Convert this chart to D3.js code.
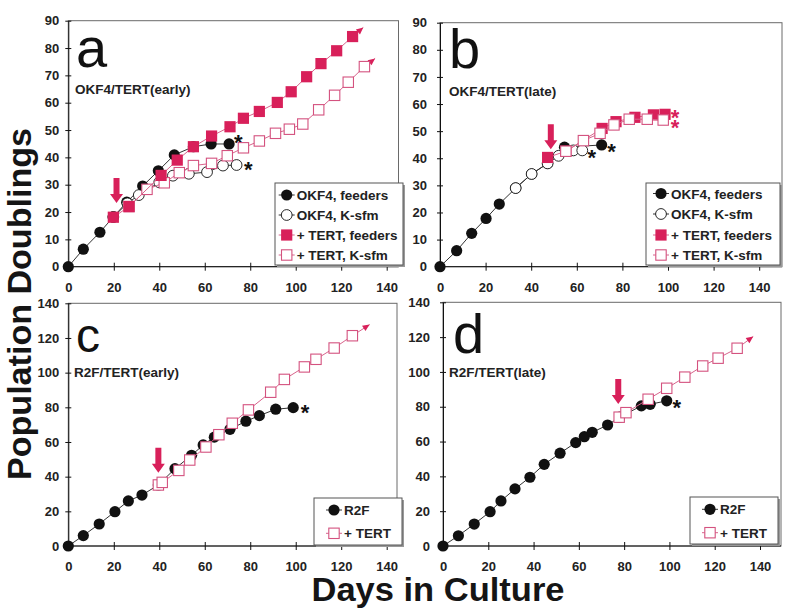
<!DOCTYPE html>
<html><head><meta charset="utf-8">
<script src="https://cdn.jsdelivr.net/npm/d3@7"></script>
<style>body{margin:0;background:#fff} text{font-family:"Liberation Sans",Arial,Helvetica,sans-serif}</style>
</head><body><svg id="chart" width="800" height="611"></svg>
<script>
// ---------- DATA ----------
const xTicks = [0, 20, 40, 60, 80, 100, 120, 140];
const yTicksAB = [0, 10, 20, 30, 40, 50, 60, 70, 80, 90];
const yTicksCD = [0, 20, 40, 60, 80, 100, 120, 140];
const legendAB = ["OKF4, feeders", "OKF4, K-sfm", "+ TERT, feeders", "+ TERT, K-sfm"];
const legendCD = ["R2F", "+ TERT"];
const panelLetters = ["a", "b", "c", "d"];
const panelTitles = ["OKF4/TERT(early)", "OKF4/TERT(late)", "R2F/TERT(early)", "R2F/TERT(late)"];

// Panel a: OKF4/TERT(early)
const aFeedersDays = [0, 6.6, 13.9, 19.8, 25.7, 32.7, 39.6, 46.6, 55, 62.8, 70.7];
const aFeedersPD   = [0, 6.4, 12.6, 18.2, 23.6, 29.5, 35.1, 40.9, 43.9, 44.9, 44.9];
const aKsfmDays = [19.8, 26, 31, 40, 46, 53, 61, 68, 74];
const aKsfmPD   = [18.2, 23.2, 26.2, 30.9, 33.3, 34, 34.6, 37, 37.2];
const aTertFeedersDays = [19.8, 26.7, 40.8, 47.9, 55, 63, 71.1, 77, 84, 91.9, 98, 104.8, 111.1, 118, 125, 129.7];
const aTertFeedersPD   = [18.1, 22, 33.4, 39, 43.9, 47.8, 51.2, 54.3, 56.8, 60.1, 64, 69.5, 74.3, 79, 84.2, 87.5];
const aTertKsfmDays = [26.7, 34.6, 42.2, 48.8, 55, 63, 69.9, 77, 84, 91.1, 97.2, 103.1, 110.1, 117.1, 123.1, 130.2, 134.9];
const aTertKsfmPD   = [22, 28.3, 30.7, 34.4, 37, 37.8, 40.6, 43.5, 46, 48.8, 50.3, 52.2, 57.4, 62.7, 67.5, 73.2, 76.2];

// Panel b: OKF4/TERT(late)
const bFeedersDays = [0, 7.3, 13.9, 20.2, 26, 33.2, 40.2, 47.2, 54.6, 70.9];
const bFeedersPD   = [0, 5.9, 12.3, 17.8, 23.1, 29, 34.2, 38.1, 44.1, 44.9];
const bKsfmDays = [33.2, 40.2, 47.2, 52, 58.5, 62.4];
const bKsfmPD   = [29, 34.2, 38.1, 40.9, 42.9, 42.9];
const bTertFeedersDays = [47.2, 55.2, 71.1, 77.2, 85.5, 93.6, 98.7];
const bTertFeedersPD   = [40.3, 42.6, 51, 53.5, 55.1, 56, 56.2];
const bTertKsfmDays = [55.2, 62.9, 70.2, 76.3, 83, 90.9, 97.9];
const bTertKsfmPD   = [42.6, 46.5, 49.2, 52.3, 54.4, 54.4, 54.1];

// Panel c: R2F/TERT(early)
const cR2FDays = [0, 6.6, 13.6, 20.5, 26.4, 32.4, 39.6, 46.9, 54.2, 59.3, 64.2, 71.1, 78.1, 84, 91.2, 98.9];
const cR2FPD   = [0, 6, 12.7, 19.8, 26, 29.4, 35.2, 44.6, 52.3, 58.3, 62.8, 67.3, 72, 75.2, 78.9, 79.8];
const cTertDays = [39.6, 41.3, 48.6, 53.4, 60.5, 66.2, 72.1, 79.2, 89, 95, 103.8, 108.9, 116.9, 124.9, 132.5];
const cTertPD   = [35.2, 36.7, 43.6, 49.6, 57.1, 64.2, 70.8, 78.5, 88.7, 96.1, 103.3, 107.7, 114.2, 121.3, 127.7];

// Panel d: R2F/TERT(late)
const dR2FDays = [0, 6.8, 13.8, 20.8, 25.6, 31.8, 38.4, 44.7, 51.7, 58.6, 62.4, 65.9, 72.7, 78, 87.6, 91.5, 98.8];
const dR2FPD   = [0, 5.9, 12.6, 19.7, 25.9, 32.8, 39.5, 46.9, 53.3, 59.4, 62.8, 65.3, 69.5, 74, 80.5, 81.4, 83.4];
const dTertDays = [77.8, 80.8, 90.6, 98.8, 106.8, 114.7, 121.5, 129.9, 137];
const dTertPD   = [74, 76.6, 84.3, 90.6, 97, 103.4, 107.9, 113.6, 120.3];

// Subculture markers (red arrows): day, population doublings at arrow tip
const arrowDays = [21.2, 48.6, 39.6, 77.4];
const arrowPD   = [23.3, 43.3, 42.3, 81.6];

// ---------- STYLE ----------
const BLACK = "#111";
const RED = "#d8205a";
const PINK = "#d4527f";
const PINKLINE = "#d8648c";

const svg = d3.select("#chart");

function pts(days, pd) { return days.map((d, i) => [d, pd[i]]); }

const panels = [
  { xr: [68.3, 386.7], right: 398.5, yr: [266.7, 20.7], yMax: 90, yTicks: yTicksAB, gap: 6,
    letterX: 76, letterY: 67, letterSize: 56, subX: 75, subY: 93.5,
    legend: { x: 275, y: 183, w: 128, h: 82, rows: [195, 215, 235, 255], mx: 286.7, labels: legendAB },
    series: [
      { p: pts(aFeedersDays, aFeedersPD), m: "fc", star: [9.2, -5.7, BLACK] },
      { p: pts(aKsfmDays, aKsfmPD), m: "oc", star: [11.7, 0, BLACK] },
      { p: pts(aTertKsfmDays, aTertKsfmPD), m: "os", tip: true },
      { p: pts(aTertFeedersDays, aTertFeedersPD), m: "fs", tip: true }
    ] },
  { xr: [440, 759.2], right: 782, yr: [266.7, 22.7], yMax: 90, yTicks: yTicksAB, gap: 10,
    letterX: 449, letterY: 68, letterSize: 56, subX: 449, subY: 95.5,
    legend: { x: 646, y: 183, w: 134, h: 82, rows: [193.5, 214, 235, 255], mx: 661, labels: legendAB },
    series: [
      { p: pts(bFeedersDays, bFeedersPD), m: "fc", star: [10, 1.7, BLACK] },
      { p: pts(bKsfmDays, bKsfmPD), m: "oc", star: [9.4, 2.6, BLACK] },
      { p: pts(bTertFeedersDays, bTertFeedersPD), m: "fs", star: [10, -1.5, RED] },
      { p: pts(bTertKsfmDays, bTertKsfmPD), m: "os", star: [11.7, 3, RED] }
    ] },
  { xr: [68.3, 386.7], right: 397, yr: [546, 303.3], yMax: 140, yTicks: yTicksCD, gap: 6,
    letterX: 76, letterY: 352, letterSize: 48, subX: 74, subY: 377,
    legend: { x: 314, y: 498, w: 88, h: 47, rows: [510, 533.3], mx: 334, labels: legendCD },
    series: [
      { p: pts(cR2FDays, cR2FPD), m: "fc", star: [11.7, 0.6, BLACK] },
      { p: pts(cTertDays, cTertPD), m: "os", tip: true }
    ] },
  { xr: [443, 760], right: 781, yr: [546, 302.3], yMax: 140, yTicks: yTicksCD, gap: 10,
    letterX: 453, letterY: 353, letterSize: 56, subX: 449, subY: 377,
    legend: { x: 690, y: 497, w: 88, h: 47, rows: [509.3, 532.7], mx: 710, labels: legendCD },
    series: [
      { p: pts(dR2FDays, dR2FPD), m: "fc", star: [10, 2.6, BLACK] },
      { p: pts(dTertDays, dTertPD), m: "os", tip: true }
    ] }
];

function drawMarker(g, m, cx, cy) {
  if (m === "fc") g.append("circle").attr("cx", cx).attr("cy", cy).attr("r", 5.6).attr("fill", BLACK);
  else if (m === "oc") g.append("circle").attr("cx", cx).attr("cy", cy).attr("r", 5.4).attr("fill", "#fff").attr("stroke", BLACK).attr("stroke-width", 0.9);
  else if (m === "fs") g.append("rect").attr("x", cx - 5.6).attr("y", cy - 5.6).attr("width", 11.2).attr("height", 11.2).attr("fill", RED);
  else g.append("rect").attr("x", cx - 5.2).attr("y", cy - 5.2).attr("width", 10.4).attr("height", 10.4).attr("fill", "#fff").attr("stroke", PINK).attr("stroke-width", 1.1);
}
const lineColor = m => (m === "fc" || m === "oc") ? "#333" : PINKLINE;

panels.forEach((P, pi) => {
  const x = d3.scaleLinear().domain([0, 140]).range(P.xr);
  const y = d3.scaleLinear().domain([0, P.yMax]).range(P.yr);
  const g = svg.append("g");
  const x0 = x(0), y0 = y(0), yT = y(P.yMax);

  // frame
  g.append("rect").attr("x", x0).attr("y", yT).attr("width", P.right - x0).attr("height", y0 - yT)
    .attr("fill", "none").attr("stroke", "#6a6a6a").attr("stroke-width", 1);

  // y axis
  const ya = g.append("g").attr("transform", `translate(${x0},0)`)
    .call(d3.axisLeft(y).tickValues(P.yTicks).tickSizeInner(3).tickSizeOuter(0).tickPadding(P.gap));
  ya.select(".domain").attr("stroke", BLACK);
  ya.selectAll(".tick line").attr("x1", -3).attr("x2", 3).attr("stroke", BLACK);
  ya.selectAll(".tick text").attr("font-size", 13).attr("font-weight", "bold").attr("fill", "#222")
    .attr("font-family", "'Liberation Sans',Arial,sans-serif");

  // x axis
  const xa = g.append("g").attr("transform", `translate(0,${y0})`)
    .call(d3.axisBottom(x).tickValues(xTicks).tickSizeInner(4).tickSizeOuter(0).tickPadding(12));
  xa.select(".domain").remove();
  xa.selectAll(".tick line").attr("y1", -4).attr("y2", 4).attr("stroke", BLACK);
  xa.selectAll(".tick text").attr("font-size", 13).attr("font-weight", "bold").attr("fill", "#222")
    .attr("font-family", "'Liberation Sans',Arial,sans-serif");
  g.append("line").attr("x1", x0).attr("x2", P.right).attr("y1", y0).attr("y2", y0).attr("stroke", BLACK);

  // panel letter + subtitle
  g.append("text").attr("x", P.letterX).attr("y", P.letterY).attr("font-size", P.letterSize)
    .attr("fill", "#111").text(panelLetters[pi]);
  g.append("text").attr("x", P.subX).attr("y", P.subY).attr("font-size", 13.5).attr("font-weight", "bold")
    .attr("fill", "#222").text(panelTitles[pi]);

  // series
  const line = d3.line().x(d => x(d[0])).y(d => y(d[1]));
  P.series.forEach(s => {
    const sg = g.append("g");
    const data = s.p;
    sg.append("path").attr("d", line(data)).attr("fill", "none")
      .attr("stroke", lineColor(s.m)).attr("stroke-width", 1);
    const markerPts = s.tip ? data.slice(0, -1) : data;
    if (s.tip) {
      const a = data[data.length - 2], b = data[data.length - 1];
      const ax = x(a[0]), ay = y(a[1]), bx = x(b[0]), by = y(b[1]);
      const ang = Math.atan2(by - ay, bx - ax) * 180 / Math.PI;
      sg.append("path").attr("d", "M0,0 L-7,-3.2 L-7,3.2 Z").attr("fill", RED)
        .attr("transform", `translate(${bx},${by}) rotate(${ang})`);
    }
    markerPts.forEach(d => drawMarker(sg, s.m, x(d[0]), y(d[1])));
    if (s.star) {
      const last = data[data.length - 1];
      sg.append("text").attr("x", x(last[0]) + s.star[0]).attr("y", y(last[1]) + s.star[1] + 12)
        .attr("text-anchor", "middle").attr("font-size", 22).attr("font-weight", "bold")
        .attr("fill", s.star[2]).text("*");
    }
  });

  // red subculture arrow
  const tx = x(arrowDays[pi]), ty = y(arrowPD[pi]);
  g.append("polygon").attr("fill", RED).attr("points", [
    [tx - 3, ty - 25], [tx + 3, ty - 25], [tx + 3, ty - 9], [tx + 6.5, ty - 9], [tx, ty],
    [tx - 6.5, ty - 9], [tx - 3, ty - 9]].map(p => p.join(",")).join(" "));

  // legend
  const L = P.legend;
  g.append("rect").attr("x", L.x + 2).attr("y", L.y + 2).attr("width", L.w).attr("height", L.h).attr("fill", "#999");
  g.append("rect").attr("x", L.x).attr("y", L.y).attr("width", L.w).attr("height", L.h)
    .attr("fill", "#fff").attr("stroke", "#555").attr("stroke-width", 1);
  const styles = L.labels.length === 4 ? ["fc", "oc", "fs", "os"] : ["fc", "os"];
  L.labels.forEach((lab, i) => {
    const cy = L.rows[i], m = styles[i];
    g.append("line").attr("x1", L.mx - 8).attr("x2", L.mx + 8).attr("y1", cy).attr("y2", cy)
      .attr("stroke", lineColor(m)).attr("stroke-width", 1);
    drawMarker(g, m, L.mx, cy);
    g.append("text").attr("x", L.mx + 10).attr("y", cy + 5).attr("font-size", 13.5).attr("font-weight", "bold")
      .attr("fill", "#222").text(lab);
  });
});

// axis titles
svg.append("text").attr("transform", "translate(31,304) rotate(-90)").attr("text-anchor", "middle")
  .attr("font-size", 34).attr("font-weight", "bold").attr("fill", "#151515")
  .attr("textLength", 352).attr("lengthAdjust", "spacingAndGlyphs").text("Population Doublings");
svg.append("text").attr("x", 438).attr("y", 601).attr("text-anchor", "middle")
  .attr("font-size", 34).attr("font-weight", "bold").attr("fill", "#151515")
  .attr("textLength", 253).attr("lengthAdjust", "spacingAndGlyphs").text("Days in Culture");
</script></body></html>
